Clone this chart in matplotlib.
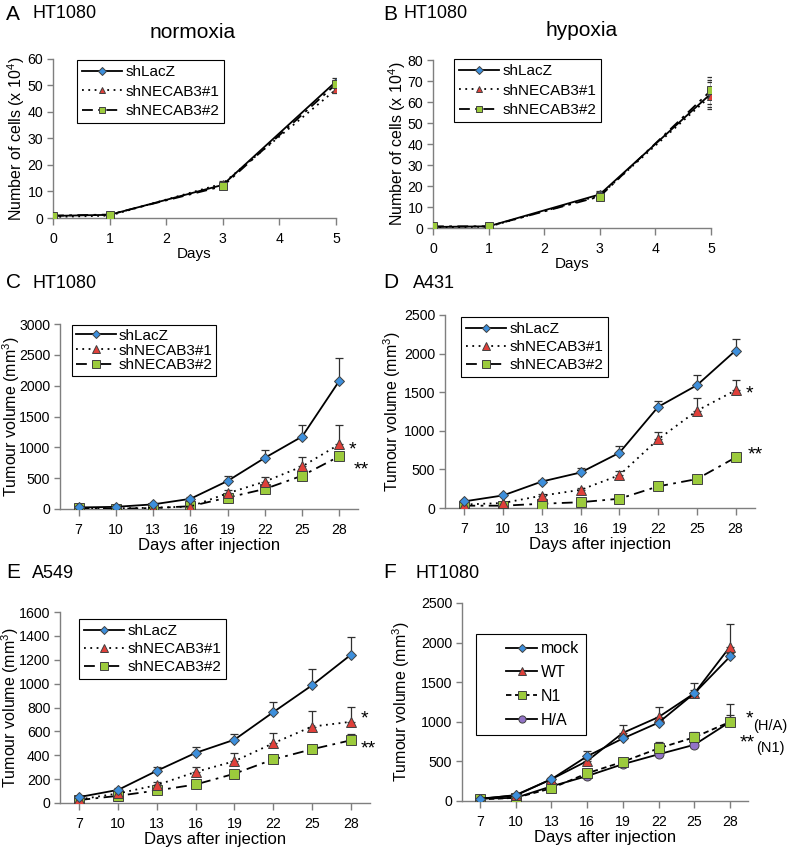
import matplotlib
matplotlib.use("Agg")
import matplotlib.pyplot as plt
import numpy as np
from matplotlib.lines import Line2D
from matplotlib.legend_handler import HandlerLine2D

plt.rcParams["font.family"] = ["Liberation Sans", "DejaVu Sans"]
plt.rcParams["mathtext.fontset"] = "custom"
plt.rcParams["mathtext.rm"] = "Liberation Sans"

BLUE = "#3d8fdc"
RED = "#e0403a"
GREEN = "#9ccb3c"
PURPLE = "#9273c6"
EDGE = "#404040"
AXCOL = "#7f7f7f"

# --- panel A / B: in vitro growth ---
days_ab = [0, 1, 3, 5]
norm_lacz = [0.8, 1.2, 12.5, 51.5]
norm_sh1 = [0.4, 0.9, 13.0, 48.5]
norm_sh2 = [0.9, 1.3, 12.0, 50.5]
norm_err = [0.2, 0.3, 0.8, 1.2]

hyp_lacz = [0.5, 0.8, 16.0, 64.0]
hyp_sh1 = [0.3, 0.6, 15.5, 63.0]
hyp_sh2 = [0.8, 0.8, 15.0, 65.5]
hyp_err = [0.3, 0.3, 1.5, 6.5]

# --- panels C-F: tumour volume ---
days = [7, 10, 13, 16, 19, 22, 25, 28]

c_lacz = [25, 35, 75, 165, 455, 830, 1175, 2080]
c_lacz_err = [5, 10, 20, 30, 75, 125, 185, 370]
c_sh1 = [10, 10, 20, 40, 255, 445, 690, 1050]
c_sh1_err = [5, 5, 10, 20, 55, 80, 150, 320]
c_sh2 = [10, 5, 15, 45, 185, 325, 540, 855]

d_lacz = [86, 163, 343, 460, 715, 1310, 1590, 2040]
d_lacz_err = [10, 15, 25, 60, 90, 80, 135, 145]
d_sh1 = [45, 65, 160, 235, 425, 890, 1260, 1525]
d_sh1_err = [10, 10, 20, 20, 60, 90, 160, 130]
d_sh2 = [30, 30, 55, 75, 120, 280, 375, 655]

e_lacz = [50, 110, 270, 420, 530, 760, 985, 1240]
e_lacz_err = [10, 15, 30, 50, 50, 85, 140, 150]
e_sh1 = [30, 80, 150, 260, 350, 500, 640, 680]
e_sh1_err = [5, 10, 30, 40, 65, 90, 130, 125]
e_sh2 = [25, 60, 105, 155, 245, 365, 450, 525]
e_sh2_err = [5, 5, 10, 10, 15, 15, 20, 50]

f_mock = [25, 75, 275, 565, 790, 990, 1360, 1825]
f_mock_err = [10, 10, 20, 65, 30, 30, 40, 40]
f_wt = [30, 70, 275, 505, 860, 1060, 1360, 1950]
f_wt_err = [10, 10, 20, 30, 105, 125, 125, 280]
f_n1 = [20, 40, 160, 350, 495, 665, 805, 1000]
f_n1_err = [5, 5, 10, 20, 30, 80, 70, 85]
f_ha = [30, 40, 185, 315, 465, 590, 710, 1000]
f_ha_err = [5, 5, 10, 15, 20, 20, 20, 230]

DOT = (0, (1, 2.5))
DASHDOT = (0, (6, 3, 1.5, 3))
DASH = (0, (3, 2))

fig = plt.figure(figsize=(7.87, 8.5), dpi=100)
W, H = 787, 850


def add_axes(x0, x1, ytop, ybot):
    ax = fig.add_axes([x0 / W, 1 - ybot / H, (x1 - x0) / W, (ybot - ytop) / H])
    ax._px = (x0, x1)
    return ax


def style_axes(ax):
    for s in ["top", "right"]:
        ax.spines[s].set_visible(False)
    for s in ["left", "bottom"]:
        ax.spines[s].set_color(AXCOL)
        ax.spines[s].set_linewidth(1.0)
    ax.tick_params(direction="out", length=4, width=1.0, color=AXCOL,
                   labelsize=10.2, pad=3)
    ax.tick_params(axis="x", length=5, pad=5)


def ylabel_at(ax, text, xpix, fs):
    ax.set_ylabel(text, fontsize=fs)
    x0, x1 = ax._px
    ax.yaxis.set_label_coords((xpix - x0) / (x1 - x0), 0.5)


def series(ax, x, y, err, marker, color, ls, ms, label, upper_only=True, z=3):
    if err is not None:
        yerr = [np.zeros(len(err)), err] if upper_only else err
        ax.errorbar(x, y, yerr=yerr, fmt="none", ecolor="#303030",
                    elinewidth=0.9, capsize=3, capthick=0.9, zorder=z - 1)
    ax.plot(x, y, linestyle=ls, color="black", lw=1.3, marker=marker,
            markersize=ms, markerfacecolor=color, markeredgecolor=EDGE,
            markeredgewidth=0.7, label=label, zorder=z)


def legend(ax, x, y, spacing, fs=11, hl=2.6, xpad=0.0, bpad=0.35):
    leg = ax.legend(loc="upper left", bbox_to_anchor=(x / W, 1 - y / H),
                    bbox_transform=fig.transFigure, frameon=True, fancybox=False,
                    edgecolor="black", framealpha=1, fontsize=fs, numpoints=1,
                    handlelength=hl, handletextpad=0.2, labelspacing=spacing,
                    borderpad=bpad, borderaxespad=0, markerscale=0.8,
                    handler_map={Line2D: HandlerLine2D(xpad=xpad)})
    leg.get_frame().set_linewidth(0.8)


# ---------- A ----------
ax = add_axes(53, 336, 59, 218)
style_axes(ax)
series(ax, days_ab, norm_lacz, norm_err, "D", BLUE, "-", 4.5, "shLacZ", False)
series(ax, days_ab, norm_sh1, norm_err, "^", RED, DOT, 5.5, "shNECAB3#1", False)
series(ax, days_ab, norm_sh2, norm_err, "s", GREEN, DASHDOT, 5.5, "shNECAB3#2", False)
ax.set_xlim(0, 5)
ax.set_ylim(0, 60)
ax.set_yticks(range(0, 61, 10))
ax.set_xticks(range(0, 6))
ax.set_xlabel("Days", fontsize=11, labelpad=1)
ylabel_at(ax, r"Number of cells (x 10$\mathregular{^4}$)", 27, 11.5)
legend(ax, 77, 60, 0.35)
fig.text(6 / W, 1 - 14 / H, "A", fontsize=15, va="center")
fig.text(32 / W, 1 - 14 / H, "HT1080", fontsize=13, va="center")
fig.text(193 / W, 1 - 33 / H, "normoxia", fontsize=15, va="center", ha="center")

# ---------- B ----------
ax = add_axes(433, 711, 60, 228)
style_axes(ax)
series(ax, days_ab, hyp_lacz, hyp_err, "D", BLUE, "-", 4.5, "shLacZ", False)
series(ax, days_ab, hyp_sh1, hyp_err, "^", RED, DOT, 5.5, "shNECAB3#1", False)
series(ax, days_ab, hyp_sh2, hyp_err, "s", GREEN, DASHDOT, 5.5, "shNECAB3#2", False)
ax.set_xlim(0, 5)
ax.set_ylim(0, 80)
ax.set_yticks(range(0, 81, 10))
ax.set_xticks(range(0, 6))
ax.set_xlabel("Days", fontsize=11, labelpad=1)
ylabel_at(ax, r"Number of cells (x 10$\mathregular{^4}$)", 408, 11.5)
legend(ax, 454, 59, 0.35)
fig.text(383 / W, 1 - 14 / H, "B", fontsize=15, va="center")
fig.text(404 / W, 1 - 14 / H, "HT1080", fontsize=13, va="center")
fig.text(582 / W, 1 - 31 / H, "hypoxia", fontsize=15, va="center", ha="center")


def tumour_axes(x0, x1, ytop, ybot, ymax, ystep, ylab_x):
    ax = add_axes(x0, x1, ytop, ybot)
    style_axes(ax)
    ax.set_xlim(5.5, 29.5)
    ax.set_xticks(days)
    ax.set_ylim(0, ymax)
    ax.set_yticks(np.arange(0, ymax + 1, ystep))
    ax.set_xlabel("Days after injection", fontsize=12, labelpad=1)
    ylabel_at(ax, r"Tumour volume (mm$\mathregular{^3}$)", ylab_x, 11.5)
    return ax


def star(ax, x, y, s, dx, dy, fs=14):
    ax.annotate(s, xy=(x, y), xytext=(dx, dy), textcoords="offset points",
                fontsize=fs, ha="left", va="center")


# ---------- C ----------
ax = tumour_axes(60, 358, 324, 509, 3000, 500, 22)
series(ax, days, c_lacz, c_lacz_err, "D", BLUE, "-", 5, "shLacZ", z=5)
series(ax, days, c_sh1, c_sh1_err, "^", RED, DOT, 6.5, "shNECAB3#1", z=4)
series(ax, days, c_sh2, None, "s", GREEN, DASHDOT, 7, "shNECAB3#2", z=3)
legend(ax, 72, 325, 0.05, bpad=0.25)
star(ax, 28, c_sh1[-1], "*", 7, -4)
star(ax, 28, c_sh2[-1], "**", 10, -10)
fig.text(6 / W, 1 - 283 / H, "C", fontsize=15, va="center")
fig.text(32 / W, 1 - 283 / H, "HT1080", fontsize=13, va="center")

# ---------- D ----------
ax = tumour_axes(445, 755, 315, 508, 2500, 500, 403)
series(ax, days, d_lacz, d_lacz_err, "D", BLUE, "-", 5, "shLacZ", z=5)
series(ax, days, d_sh1, d_sh1_err, "^", RED, DOT, 6.5, "shNECAB3#1", z=4)
series(ax, days, d_sh2, None, "s", GREEN, DASHDOT, 7, "shNECAB3#2", z=3)
legend(ax, 461, 317, 0.25)
star(ax, 28, d_sh1[-1], "*", 7, -3)
star(ax, 28, d_sh2[-1], "**", 9, 2)
fig.text(383 / W, 1 - 283 / H, "D", fontsize=15, va="center")
fig.text(413 / W, 1 - 283 / H, "A431", fontsize=13, va="center")

# ---------- E ----------
ax = tumour_axes(60, 370, 612, 803, 1600, 200, 21)
series(ax, days, e_lacz, e_lacz_err, "D", BLUE, "-", 5, "shLacZ", z=5)
series(ax, days, e_sh1, e_sh1_err, "^", RED, DOT, 6.5, "shNECAB3#1", z=4)
series(ax, days, e_sh2, e_sh2_err, "s", GREEN, DASHDOT, 7, "shNECAB3#2", z=3)
legend(ax, 79, 619, 0.25)
star(ax, 28, e_sh1[-1], "*", 7, 2)
star(ax, 28, e_sh2[-1], "**", 7, -6)
fig.text(6 / W, 1 - 573 / H, "E", fontsize=15, va="center")
fig.text(32 / W, 1 - 573 / H, "A549", fontsize=13, va="center")

# ---------- F ----------
ax = tumour_axes(462, 748, 603, 801, 2500, 500, 412)
series(ax, days, f_mock, f_mock_err, "D", BLUE, "-", 5, "mock", z=6)
series(ax, days, f_wt, f_wt_err, "^", RED, "-", 6.5, "WT", z=5)
series(ax, days, f_n1, f_n1_err, "s", GREEN, DASH, 6.5, "N1", z=4)
series(ax, days, f_ha, f_ha_err, "o", PURPLE, "-", 6.5, "H/A", z=3)
legend(ax, 476, 634, 0.55, fs=11.5, hl=3.4, xpad=1.4, bpad=0.45)
star(ax, 28, f_ha[-1], "*", 11, 2)
star(ax, 28, f_ha[-1], "(H/A)", 16.5, -3, fs=10.5)
star(ax, 28, f_n1[-1], "**", 7, -15.5)
star(ax, 28, f_n1[-1], "(N1)", 18.5, -19, fs=10.5)
fig.text(383 / W, 1 - 573 / H, "F", fontsize=15, va="center")
fig.text(415 / W, 1 - 573 / H, "HT1080", fontsize=13, va="center")

fig.savefig("out.png", dpi=100)
